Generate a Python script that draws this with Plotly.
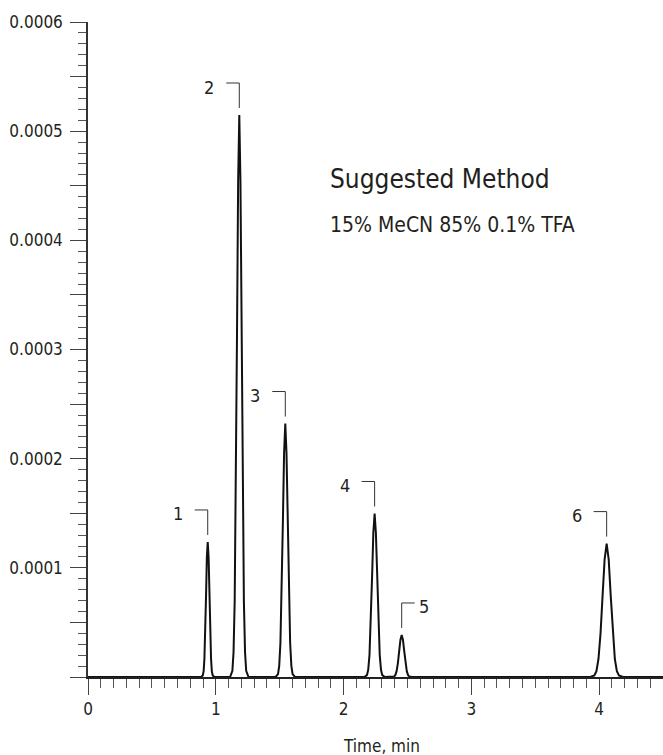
import plotly.graph_objects as go

# ---- data ----
# retention time (min) and absorbance for each chromatogram segment
baseline_t = [0.0, 4.5]
baseline_a = [0.0, 0.0]

p1_t = [0.885, 0.898, 0.905, 0.911, 0.918, 0.924, 0.930, 0.937, 0.944, 0.950, 0.957, 0.963, 0.969, 0.976, 0.989]
p1_a = [0.0, 0.0000014, 0.0000054, 0.0000167, 0.0000402, 0.0000750, 0.0001092, 0.0001237,
        0.0001092, 0.0000750, 0.0000402, 0.0000167, 0.0000054, 0.0000014, 0.0]

p2_t = [1.112, 1.130, 1.139, 1.148, 1.157, 1.166, 1.175, 1.184, 1.193, 1.202, 1.211, 1.220, 1.229, 1.238, 1.256]
p2_a = [0.0, 0.0000057, 0.0000226, 0.0000697, 0.0001672, 0.0003122, 0.0004543, 0.0005148,
        0.0004543, 0.0003122, 0.0001672, 0.0000697, 0.0000226, 0.0000057, 0.0]

p3_t = [1.468, 1.487, 1.4965, 1.506, 1.5155, 1.525, 1.5345, 1.544, 1.5535, 1.563, 1.5725, 1.582, 1.5915, 1.601, 1.620]
p3_a = [0.0, 0.0000026, 0.0000102, 0.0000314, 0.0000754, 0.0001408, 0.0002049, 0.0002322,
        0.0002049, 0.0001408, 0.0000754, 0.0000314, 0.0000102, 0.0000026, 0.0]

p4_t = [2.163, 2.183, 2.193, 2.203, 2.213, 2.223, 2.233, 2.243, 2.253, 2.263, 2.273, 2.283, 2.293, 2.303, 2.323]
p4_a = [0.0, 0.0000017, 0.0000066, 0.0000203, 0.0000486, 0.0000909, 0.0001322, 0.0001498,
        0.0001322, 0.0000909, 0.0000486, 0.0000203, 0.0000066, 0.0000017, 0.0]

p5_t = [2.375, 2.395, 2.405, 2.415, 2.425, 2.435, 2.445, 2.455, 2.465, 2.475, 2.485, 2.495, 2.505, 2.515, 2.535]
p5_a = [0.0, 0.0000004, 0.0000017, 0.0000052, 0.0000125, 0.0000234, 0.0000340, 0.0000385,
        0.0000340, 0.0000234, 0.0000125, 0.0000052, 0.0000017, 0.0000004, 0.0]

p6_t = [3.931, 3.963, 3.979, 3.995, 4.011, 4.027, 4.043, 4.059, 4.075, 4.091, 4.107, 4.123, 4.139, 4.155, 4.187]
p6_a = [0.0, 0.0000014, 0.0000054, 0.0000165, 0.0000397, 0.0000741, 0.0001078, 0.0001222,
        0.0001078, 0.0000741, 0.0000397, 0.0000165, 0.0000054, 0.0000014, 0.0]

peak_labels = ["1", "2", "3", "4", "5", "6"]
label_side = ["left", "left", "left", "left", "right", "left"]

y_major = [0.0, 0.00005, 0.0001, 0.00015, 0.0002, 0.00025, 0.0003, 0.00035,
           0.0004, 0.00045, 0.0005, 0.00055, 0.0006]
y_major_text = ["", "", "0.0001", "", "0.0002", "", "0.0003", "", "0.0004", "",
                "0.0005", "", "0.0006"]
x_major = [0, 1, 2, 3, 4]
x_major_text = ["0", "1", "2", "3", "4"]
x_mid = [0.5, 1.5, 2.5, 3.5, 4.5]

title_text = "Suggested Method"
subtitle_text = "15% MeCN 85% 0.1% TFA"
x_title = "Time, min"

# ---- figure ----
FONT = "DejaVu Sans Condensed, Liberation Sans Narrow, Arial Narrow, sans-serif"
INK = "#231f20"

peaks = [(p1_t, p1_a), (p2_t, p2_a), (p3_t, p3_a), (p4_t, p4_a), (p5_t, p5_a), (p6_t, p6_a)]

t_all = [baseline_t[0]]
a_all = [baseline_a[0]]
for pt, pa in peaks:
    t_all += pt
    a_all += pa
t_all.append(baseline_t[1])
a_all.append(baseline_a[1])

fig = go.Figure()
fig.add_trace(go.Scatter(x=t_all, y=a_all, mode="lines",
                         line=dict(color="#111111", width=2), hoverinfo="skip",
                         showlegend=False))

annotations = []
shapes = []
for (pt, pa), lab, side in zip(peaks, peak_labels, label_side):
    i = pa.index(max(pa))
    xt, yt = pt[i], pa[i]
    if side == "left":
        path = "M -13,32 L 0,32 L 0,7"
        xs = -30
    else:
        path = "M 13,32 L 0,32 L 0,7"
        xs = 22
    shapes.append(dict(type="path", xref="x", yref="y", xsizemode="pixel", ysizemode="pixel",
                       xanchor=xt, yanchor=yt, path=path,
                       line=dict(color="#333333", width=1)))
    annotations.append(dict(x=xt, y=yt, xref="x", yref="y", text=lab, showarrow=False,
                            xshift=xs, yshift=28, font=dict(family=FONT, size=18, color=INK)))

annotations.append(dict(x=0.4174, y=0.760, xref="paper", yref="paper", text=title_text,
                        showarrow=False, xanchor="left", yanchor="middle",
                        font=dict(family=FONT, size=26, color=INK)))
annotations.append(dict(x=0.4174, y=0.690, xref="paper", yref="paper", text=subtitle_text,
                        showarrow=False, xanchor="left", yanchor="middle",
                        font=dict(family=FONT, size=21, color=INK)))
annotations.append(dict(x=0.511, y=-0.105, xref="paper", yref="paper", text=x_title,
                        showarrow=False, xanchor="center", yanchor="middle",
                        font=dict(family=FONT, size=17, color=INK)))

fig.update_layout(
    width=663, height=755,
    margin=dict(l=88, r=0, t=22, b=78),
    paper_bgcolor="white", plot_bgcolor="white",
    font=dict(family=FONT, size=16, color=INK),
    showlegend=False,
    xaxis=dict(range=[0, 4.5], showgrid=False, zeroline=False,
               showline=True, linecolor="#222222", linewidth=1.5,
               ticks="outside", tickvals=x_major, ticktext=x_major_text,
               ticklen=16, tickwidth=1.2, tickcolor="#444444",
               ticklabelstandoff=0,
               tickfont=dict(family=FONT, size=17, color=INK),
               minor=dict(dtick=0.1, tick0=0, ticks="outside", ticklen=9,
                          tickwidth=1, tickcolor="#555555")),
    xaxis2=dict(range=[0, 4.5], overlaying="x", anchor="y", side="bottom",
                showgrid=False, zeroline=False, showline=False,
                ticks="outside", tickvals=x_mid, ticklen=13, tickwidth=1,
                tickcolor="#555555", showticklabels=False),
    yaxis=dict(range=[0, 0.0006], showgrid=False, zeroline=False,
               showline=True, linecolor="#333333", linewidth=1.5,
               ticks="outside", tickvals=y_major, ticktext=y_major_text,
               ticklen=16, tickwidth=1.2, tickcolor="#444444",
               ticklabelstandoff=4,
               tickfont=dict(family=FONT, size=17, color=INK),
               minor=dict(dtick=0.00001, tick0=0, ticks="outside", ticklen=8,
                          tickwidth=1, tickcolor="#555555")),
    shapes=shapes,
    annotations=annotations,
)

# remove the default page margin so the 663x755 figure fills the window exactly
fig.write_html("out.html", config={"displayModeBar": False},
               post_script="document.body.style.margin='0px';")
